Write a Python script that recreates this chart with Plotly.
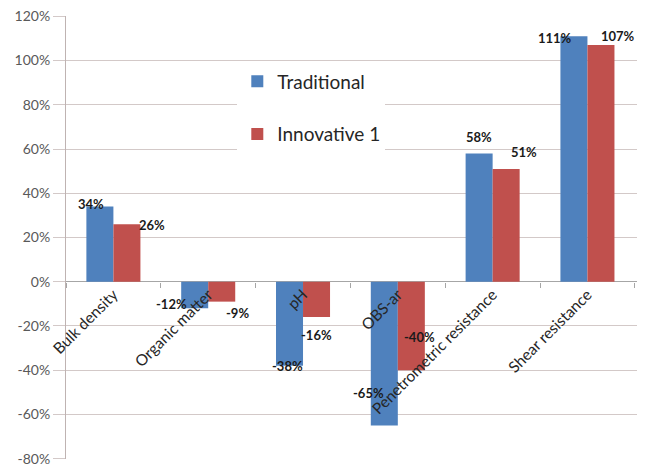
import plotly.graph_objects as go

categories = ["Bulk density", "Organic matter", "pH", "OBS-ar",
              "Penetrometric resistance", "Shear resistance"]
traditional = [34, -12, -38, -65, 58, 111]
innovative = [26, -9, -16, -40, 51, 107]
series_names = ["Traditional", "Innovative 1"]
y_ticks = [-80, -60, -40, -20, 0, 20, 40, 60, 80, 100, 120]

# label offsets (px) relative to bar centre / bar end, as placed in the reference
trad_label_off = [(-9, 3), (-23, 4), (-2, 0), (-16, 32), (0, 16), (-19, -2)]
innov_label_off = [(25, -1), (16, -11), (0, -18), (8, 33), (18, 17), (17, 9)]

BLUE = "#4F81BD"
RED = "#C0504D"
GRID = "#D3C9C8"
FONT = "Lato"

L, R, T, B = 66, 17, 16, 8
W, H = 654, 467
BARGAP = 0.43

fig = go.Figure()
for name, vals, col in [(series_names[0], traditional, BLUE), (series_names[1], innovative, RED)]:
    fig.add_trace(go.Bar(
        x=categories, y=vals, name=name, marker_color=col,
        marker_line_width=0, legendgroup=name,
    ))

plot_w = W - L - R
cat_w = plot_w / len(categories)
bar_w = cat_w * (1 - BARGAP) / 2

annotations = []
for vals, offs, sign in [(traditional, trad_label_off, -1), (innovative, innov_label_off, 1)]:
    for c, v, (dx, dy) in zip(categories, vals, offs):
        annotations.append(dict(
            x=c, y=v, xref="x", yref="y", text=f"<b>{v}%</b>", showarrow=False,
            xshift=sign * bar_w / 2 + dx, yshift=dy,
            xanchor="center", yanchor="middle",
            font=dict(family=FONT, size=13, color="#1a1a1a"),
        ))

pad = 0.15
ymin, ymax = y_ticks[0] - pad, y_ticks[-1] + pad
zero_pos = (0 - ymin) / (ymax - ymin)

fig.update_layout(
    width=W, height=H,
    margin=dict(l=L, r=R, t=T, b=B, autoexpand=False),
    paper_bgcolor="white", plot_bgcolor="white",
    barmode="group", bargap=BARGAP, bargroupgap=0,
    font=dict(family=FONT, color="#404040"),
    annotations=annotations,
    legend=dict(
        x=0.30, y=0.895, xanchor="left", yanchor="top",
        bgcolor="white", font=dict(size=19, color="#262626", family=FONT),
        traceorder="grouped", tracegroupgap=25,
        itemwidth=30,
    ),
    xaxis=dict(
        anchor="free", position=zero_pos, automargin=False,
        showline=False,
        ticks="outside", tickson="boundaries", ticklen=5, tickcolor="#A6A6A6",
        tickangle=-45, tickfont=dict(size=15.5, color="#262626", family=FONT),
        showgrid=False,
    ),
    yaxis=dict(
        range=[ymin, ymax], tickvals=y_ticks, automargin=False,
        ticktext=[f"{t}%" for t in y_ticks],
        showgrid=True, gridcolor=GRID, gridwidth=1,
        zeroline=True, zerolinecolor="#A6A6A6", zerolinewidth=1,
        showline=True, linecolor="#BFB3B2", linewidth=1,
        ticks="outside", ticklen=12, tickcolor=GRID,
        tickfont=dict(size=14, color="#595959", family=FONT),
        ticklabeloverflow="allow",
    ),
)

fig.write_html("out.html")
